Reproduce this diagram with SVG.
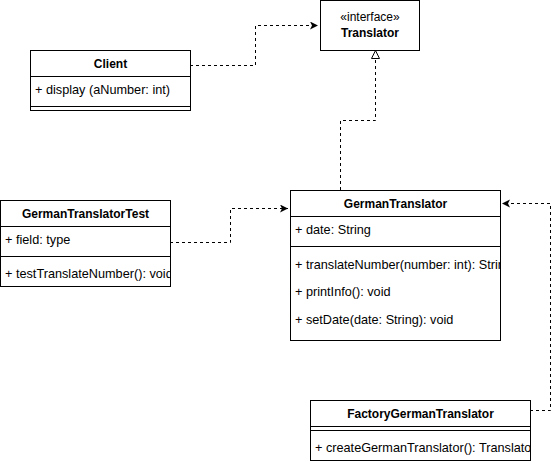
<svg xmlns="http://www.w3.org/2000/svg" width="559" height="464" viewBox="0 0 559 464">
<style>
.box{fill:#fff;stroke:#000;stroke-width:1}
.ln{stroke:#000;stroke-width:1;fill:none}
.t{font-family:"Liberation Sans",Arial,sans-serif;font-size:12.7px;fill:#000}
.b{font-weight:bold;text-anchor:middle;font-size:12px}
.c{text-anchor:middle;font-size:12px}
.dash{stroke:#000;stroke-width:1;fill:none;stroke-dasharray:3,3}
</style>
<defs>
<marker id="dep" markerWidth="10" markerHeight="10" refX="8" refY="4" orient="auto" markerUnits="userSpaceOnUse">
<path d="M0,0 L8,4 L0,8 L2,4 Z" fill="#000"/>
</marker>
<clipPath id="cGT"><rect x="290" y="190" width="210" height="150"/></clipPath>
<clipPath id="cGTT"><rect x="0" y="200" width="170" height="86"/></clipPath>
<clipPath id="cF"><rect x="310" y="400" width="220" height="60"/></clipPath>
</defs>
<g id="connectors">
<path class="dash" d="M190,65.5 H255.5 V25.5 H318" marker-end="url(#dep)"/>
<path class="dash" d="M340.5,190 V120.5 H375.5 V58"/>
<path d="M375.5,50.5 L371.5,58.5 L379.5,58.5 Z" fill="#fff" stroke="#000" stroke-width="1"/>
<path class="dash" d="M170,242.5 H230.5 V208.5 H288" marker-end="url(#dep)"/>
<path class="dash" d="M530,410.5 H550.5 V203.5 H502" marker-end="url(#dep)"/>
</g>
<g id="Translator">
<rect class="box" x="320.5" y="0.5" width="99" height="50"/>
<text class="t c" x="370" y="21">«interface»</text>
<text class="t b" x="370" y="37">Translator</text>
</g>
<g id="Client">
<rect class="box" x="30.5" y="50.5" width="160" height="60"/>
<line class="ln" x1="30.5" y1="76.5" x2="190.5" y2="76.5"/>
<line class="ln" x1="30.5" y1="106.5" x2="190.5" y2="106.5"/>
<text class="t b" x="110.5" y="68">Client</text>
<text class="t" x="35" y="94">+ display (aNumber: int)</text>
</g>
<g id="GermanTranslatorTest">
<rect class="box" x="0.5" y="200.5" width="170" height="86"/>
<line class="ln" x1="0.5" y1="226.5" x2="170.5" y2="226.5"/>
<line class="ln" x1="0.5" y1="256.5" x2="170.5" y2="256.5"/>
<g clip-path="url(#cGTT)">
<text class="t b" x="85.5" y="218">GermanTranslatorTest</text>
<text class="t" x="5" y="244">+ field: type</text>
<text class="t" x="5" y="278">+ testTranslateNumber(): void</text>
</g>
</g>
<g id="GermanTranslator">
<rect class="box" x="290.5" y="190.5" width="210" height="150"/>
<line class="ln" x1="290.5" y1="216.5" x2="500.5" y2="216.5"/>
<line class="ln" x1="290.5" y1="246.5" x2="500.5" y2="246.5"/>
<g clip-path="url(#cGT)">
<text class="t b" x="395.5" y="208">GermanTranslator</text>
<text class="t" x="295" y="234">+ date: String</text>
<text class="t" x="295" y="269">+ translateNumber(number: int): String</text>
<text class="t" x="295" y="296">+ printInfo(): void</text>
<text class="t" x="295" y="324">+ setDate(date: String): void</text>
</g>
</g>
<g id="FactoryGermanTranslator">
<rect class="box" x="310.5" y="400.5" width="220" height="60"/>
<line class="ln" x1="310.5" y1="426.5" x2="530.5" y2="426.5"/>
<line class="ln" x1="310.5" y1="430.5" x2="530.5" y2="430.5"/>
<g clip-path="url(#cF)">
<text class="t b" x="420.5" y="418">FactoryGermanTranslator</text>
<text class="t" x="315" y="452">+ createGermanTranslator(): Translator</text>
</g>
</g>
</svg>
